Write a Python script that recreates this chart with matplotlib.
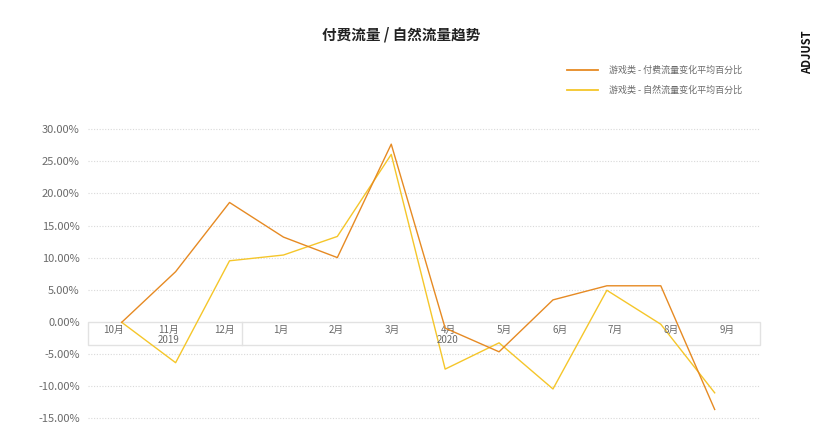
import numpy as np
import matplotlib
matplotlib.use("Agg")
import matplotlib.pyplot as plt
from matplotlib.patches import Rectangle

plt.rcParams['font.family'] = ['Noto Sans CJK SC', 'DejaVu Sans']

# data (percent change)
months = ['10月', '11月', '12月', '1月', '2月', '3月', '4月', '5月', '6月', '7月', '8月', '9月']
paid = [-0.1, 7.8, 18.6, 13.2, 10.0, 27.7, -1.0, -4.7, 3.4, 5.6, 5.6, -13.7]
organic = [-0.1, -6.4, 9.5, 10.4, 13.3, 26.1, -7.4, -3.3, -10.5, 4.9, -0.4, -11.1]
yticks = [30, 25, 20, 15, 10, 5, 0, -5, -10, -15]
years = [('2019', 1), ('2020', 6)]
series_names = ['游戏类 - 付费流量变化平均百分比', '游戏类 - 自然流量变化平均百分比']

c_paid = '#E68A23'
c_org = '#F5C62A'
grid_c = '#d9d9d9'
txt_c = '#6a6a6a'

fig = plt.figure(figsize=(8.21, 4.45), dpi=100)
ax = fig.add_axes([0.1072, 0.0438, 0.8188, 0.6798])

x = np.arange(len(months))
x0, x1 = -0.625, 11.845
ax.set_xlim(x0, x1)
ax.set_ylim(-16.2, 31)

# dotted grid, zero line is the top of the category band
for t in yticks:
    if t != 0:
        ax.axhline(t, color=grid_c, lw=0.8, ls=(0, (1, 1.5)), zorder=0)

band_bottom = -3.6
ax.add_patch(Rectangle((x0, band_bottom), x1 - x0, -band_bottom, fill=False,
                       edgecolor='#e2e2e2', lw=1.0, zorder=1, clip_on=False))
ax.plot([2.23, 2.23], [band_bottom, 0], color='#e2e2e2', lw=1.0, zorder=1)

# month labels sit on a slightly wider spacing than the points
label_pos = np.linspace(-0.16, 11.23, len(months))
for lx, m in zip(label_pos, months):
    ax.text(lx, -1.3, m, ha='center', va='center', fontsize=7, color=txt_c)
for yr, i in years:
    ax.text(label_pos[i], -2.85, yr, ha='center', va='center', fontsize=7, color=txt_c)

ax.plot(x, paid, color=c_paid, lw=1.0, zorder=3)
ax.plot(x, organic, color=c_org, lw=1.0, zorder=2)

ax.set_yticks(yticks)
ax.set_yticklabels(['{:.2f}%'.format(t) for t in yticks], fontsize=8, color=txt_c)
ax.tick_params(axis='y', length=0, pad=6)
ax.set_xticks([])
for s in ax.spines.values():
    s.set_visible(False)

fig.text(401 / 821, 1 - 35 / 445, '付费流量 / 自然流量趋势', ha='center', va='center',
         fontsize=10.5, fontweight='bold', color='#222222')

# legend drawn by hand at top right
for k, (name, col) in enumerate(zip(series_names, [c_paid, c_org])):
    yy = 1 - (70 + 20 * k) / 445
    fig.add_artist(plt.Line2D([567 / 821, 598 / 821], [yy, yy], color=col, lw=1.3))
    fig.text(609 / 821, yy, name, ha='left', va='center', fontsize=6.5, color=txt_c)

fig.text(808 / 821, 1 - 52 / 445, 'ADJUST', rotation=90, ha='center', va='center',
         fontsize=8, fontweight='bold', color='#111111')

fig.savefig('out.png', dpi=100)
